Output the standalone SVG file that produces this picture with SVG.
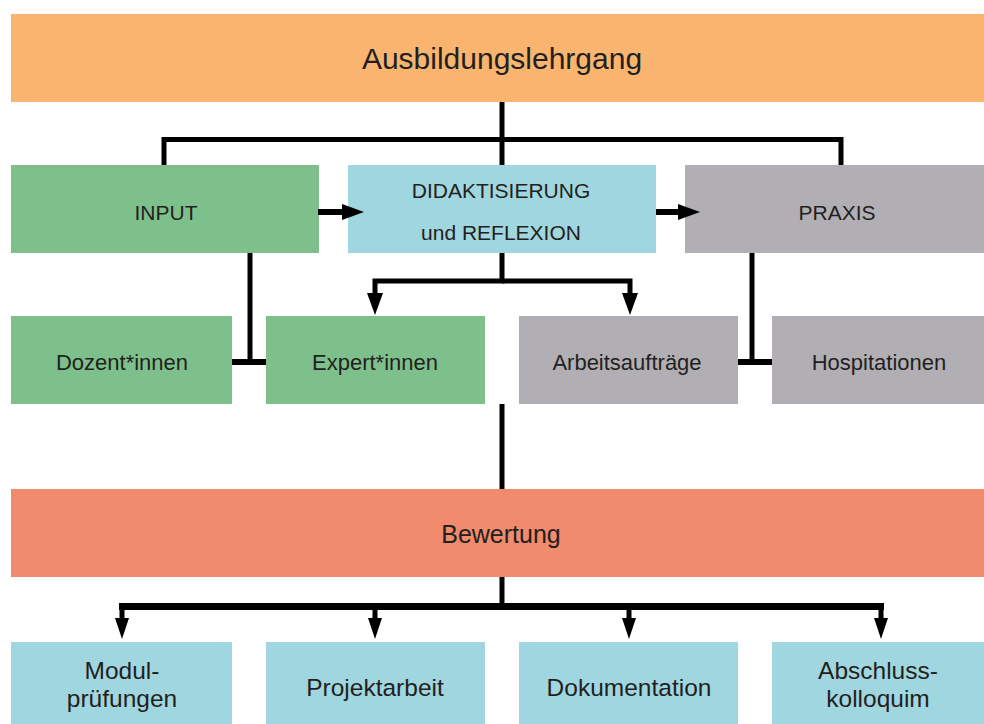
<svg xmlns="http://www.w3.org/2000/svg" width="984" height="724" viewBox="0 0 984 724">
<style>
  .orange{fill:#F9B570}
  .green{fill:#7DC08C}
  .blue{fill:#A0D6DF}
  .gray{fill:#B1AFB4}
  .red{fill:#F08B6D}
  text{font-family:"Liberation Sans",Arial,sans-serif;fill:#231F20;text-anchor:middle}
  .big{font-size:30px}
  .mid{font-size:25px}
  .r2{font-size:21px}
  .r3{font-size:22px}
  .r4{font-size:24.5px}
  .ln{fill:none;stroke:#000;stroke-width:5;stroke-linejoin:miter}
  .thick{stroke-width:6}
</style>
<defs>
  <marker id="ah" viewBox="0 0 22 16" refX="0" refY="8" markerWidth="22" markerHeight="16" markerUnits="userSpaceOnUse" orient="auto">
    <path d="M0,0 L22,8 L0,16 Z" fill="#000"/>
  </marker>
  <marker id="ahs" viewBox="0 0 21 14" refX="0" refY="7" markerWidth="21" markerHeight="14" markerUnits="userSpaceOnUse" orient="auto">
    <path d="M0,0 L21,7 L0,14 Z" fill="#000"/>
  </marker>
</defs>

<g id="ausbildungslehrgang"><rect class="orange" x="11" y="14" width="982" height="88"/><text class="big" x="502" y="69">Ausbildungslehrgang</text></g>

<g id="input"><rect class="green" x="11" y="165" width="308" height="88"/><text class="r2" x="166" y="220">INPUT</text></g>
<g id="didaktisierung"><rect class="blue" x="348" y="165" width="308" height="88"/><text class="r2" x="501" y="198">DIDAKTISIERUNG</text><text class="r2" x="501" y="240">und REFLEXION</text></g>
<g id="praxis"><rect class="gray" x="685" y="165" width="308" height="88"/><text class="r2" x="837" y="220">PRAXIS</text></g>

<g id="dozentinnen"><rect class="green" x="11" y="316" width="221" height="88"/><text class="r3" x="122" y="370">Dozent*innen</text></g>
<g id="expertinnen"><rect class="green" x="266" y="316" width="219" height="88"/><text class="r3" x="375" y="370">Expert*innen</text></g>
<g id="arbeitsauftraege"><rect class="gray" x="519" y="316" width="219" height="88"/><text class="r3" x="627" y="370">Arbeitsaufträge</text></g>
<g id="hospitationen"><rect class="gray" x="772" y="316" width="219" height="88"/><text class="r3" x="879" y="370">Hospitationen</text></g>

<g id="bewertung"><rect class="red" x="11" y="489" width="982" height="88"/><text class="mid" x="501" y="543">Bewertung</text></g>

<g id="modulpruefungen"><rect class="blue" x="11" y="642" width="221" height="90"/><text class="r4" x="122" y="679">Modul-</text><text class="r4" x="122" y="707">prüfungen</text></g>
<g id="projektarbeit"><rect class="blue" x="266" y="642" width="219" height="90"/><text class="r4" x="375" y="696">Projektarbeit</text></g>
<g id="dokumentation"><rect class="blue" x="519" y="642" width="219" height="90"/><text class="r4" x="629" y="696">Dokumentation</text></g>
<g id="abschlusskolloquim"><rect class="blue" x="772" y="642" width="219" height="90"/><text class="r4" x="878" y="679">Abschluss-</text><text class="r4" x="878" y="707">kolloquim</text></g>

<g id="connectors">
  <path class="ln" d="M502,102 V165"/>
  <path class="ln" d="M164,165 V139.5 H841 V165"/>
  <path class="ln thick" d="M318,212 H342" marker-end="url(#ah)"/>
  <path class="ln thick" d="M656,212 H678" marker-end="url(#ah)"/>
  <path class="ln" d="M502,253 V281 H375 V293" marker-end="url(#ah)"/>
  <path class="ln" d="M502,281 H630 V293" marker-end="url(#ah)"/>
  <path class="ln" d="M250,253 V362"/>
  <path class="ln thick" d="M232,362 H266"/>
  <path class="ln" d="M752,253 V362"/>
  <path class="ln thick" d="M738,362 H772"/>
  <path class="ln" d="M502,404 V489"/>
  <path class="ln" d="M502,577 V606"/>
  <path class="ln" style="stroke-width:7" d="M119,606.5 H884"/>
  <path class="ln" d="M122,606 V618" marker-end="url(#ahs)"/>
  <path class="ln" d="M375,606 V618" marker-end="url(#ahs)"/>
  <path class="ln" d="M629,606 V618" marker-end="url(#ahs)"/>
  <path class="ln" d="M881,606 V618" marker-end="url(#ahs)"/>
</g>
</svg>
